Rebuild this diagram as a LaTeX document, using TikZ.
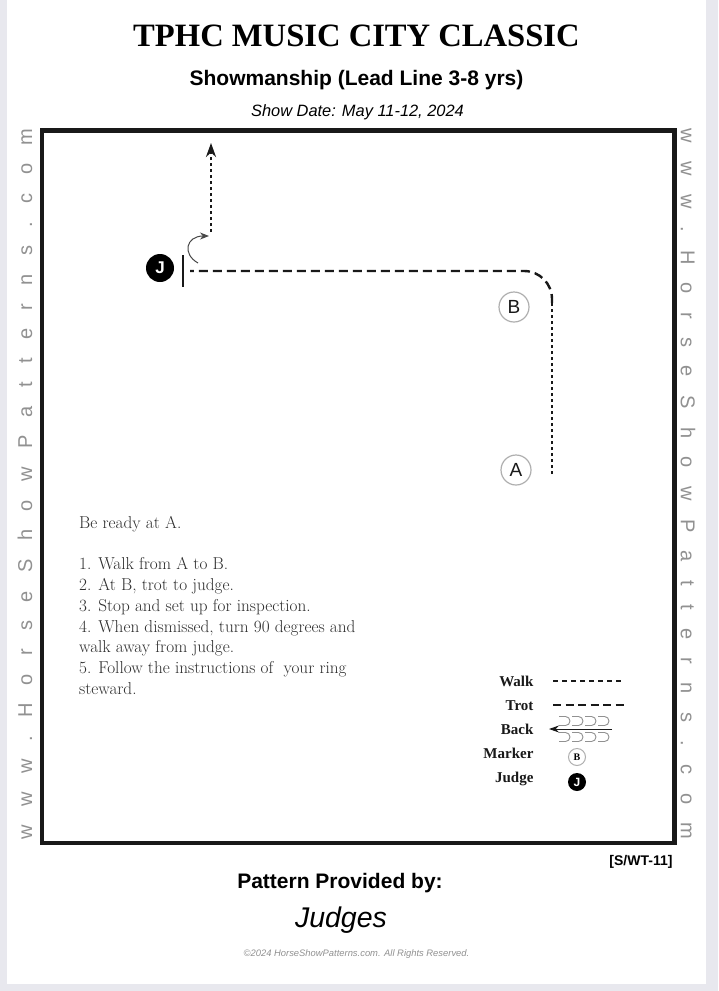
\documentclass[tikz,border=0pt]{standalone}
\usepackage{fontspec}
\newfontfamily\hspsans{Liberation Sans}
\newfontfamily\hspserif{Liberation Serif}
\usetikzlibrary{arrows.meta}
\definecolor{gray1}{RGB}{145, 145, 145}
\definecolor{gray2}{RGB}{175, 175, 175}
\definecolor{text1}{RGB}{45, 45, 45}
\definecolor{black1}{RGB}{25, 25, 25}
\definecolor{page1}{RGB}{232, 232, 238}

\begin{document}
\begin{tikzpicture}[
    x=1pt, y=-1pt,
    marker/.style={
      circle, draw=gray2, line width=1.2pt, minimum size=30pt, inner sep=0pt,
      font=\hspsans\fontsize{19}{19}\selectfont, text=black1
    },
    judge/.style={
      circle, fill=black, minimum size=28pt, inner sep=0pt,
      font=\hspsans\bfseries\fontsize{17}{17}\selectfont, text=white
    },
    walk/.style={line width=2.4pt, dash pattern=on 3pt off 3pt, black1},
    trot/.style={line width=2.4pt, dash pattern=on 9pt off 5pt, black1},
    watermark/.style={
      font=\hspsans\fontsize{20}{20}\selectfont\addfontfeature{LetterSpace=92},
      text=gray1, inner sep=0pt
    },
    legend/.style={anchor=base east, font=\hspserif\bfseries\fontsize{15}{15}\selectfont, text=black1},
  ]

  % Page
  \fill[page1] (0,0) rectangle (718,991);
  \fill[white] (7,0) rectangle (706,984);
  \useasboundingbox (0,0) rectangle (718,991);

  % Header
  \node[font=\hspserif\bfseries\fontsize{32.6}{32.6}\selectfont] (title) at (356.5,36) {TPHC MUSIC CITY CLASSIC};
  \node[anchor=base, font=\hspsans\bfseries\fontsize{21}{21}\selectfont] (class) at (356.5,85.5) {Showmanship (Lead Line 3-8 yrs)};
  \node[anchor=base, font=\hspsans\itshape\fontsize{16.4}{16.4}\selectfont] (date) at (357.5,116) {Show Date: May 11-12, 2024};

  % Arena
  \draw[black1, line width=4.5pt] (42,130.5) rectangle (674.5,843);
  \node[watermark, rotate=90] (wmleft) at (25,484) {www.HorseShowPatterns.com};
  \node[watermark, rotate=-90] (wmright) at (688,484) {www.HorseShowPatterns.com};

  % Markers and judge
  \node[marker] (B) at (514,307) {B};
  \node[marker] (A) at (516,470) {A};
  \node[judge] (J) at (160,268) {J};
  \draw[black1, line width=2pt] (183,255) -- (183,287);

  % Pattern
  \coordinate (start) at (552,474);
  \coordinate (corner) at (552,303);
  \coordinate (stop) at (190,271);
  \draw[walk] (start) -- (corner);
  \draw[trot, rounded corners=28pt] (corner) |- (stop);
  \coordinate (turn) at (198,263);
  \coordinate (turnend) at (209,236);
  \draw[black1!80, line width=1pt, -{Stealth[length=9pt, width=7pt]}] (turn) .. controls (182,254) and (186,236) .. (turnend);
  \coordinate (away) at (211,232);
  \coordinate (exit) at (211,143);
  \draw[walk, -{Stealth[length=14pt, width=10pt]}] (away) -- (exit);

  % Instructions
  \node[anchor=north west, align=left, inner sep=0pt, text=text1, font=\fontsize{17.2}{20.75}\selectfont] (steps) at (79,516) {Be ready at A.\\[20.75pt]
    1. Walk from A to B.\\
    2. At B, trot to judge.\\
    3. Stop and set up for inspection.\\
    4. When dismissed, turn 90 degrees and\\
    walk away from judge.\\
    5. Follow the instructions of\ \ your ring\\
    steward.};

  % Legend
  \node[legend] (lwalk) at (537,686) {Walk};
  \node[legend] (ltrot) at (537,710) {Trot};
  \node[legend] (lback) at (537,734) {Back};
  \node[legend] (lmarker) at (537,758) {Marker};
  \node[legend] (ljudge) at (537,782) {Judge};
  \draw[black1, line width=1.5pt, dash pattern=on 4.5pt off 4.5pt] (553,681) -- (625,681);
  \draw[black1, line width=1.5pt, dash pattern=on 8pt off 4.5pt] (553,705) -- (625,705);
  \foreach \i in {0,...,3} {
    \draw[gray1, line width=0.9pt] ({559+13*\i},716.5) -- ++(6.5,0) arc[start angle=-90, end angle=90, radius=4.5] -- ++(-6.5,0);
    \draw[gray1, line width=0.9pt] ({559+13*\i},732.5) -- ++(6.5,0) arc[start angle=-90, end angle=90, radius=4.5] -- ++(-6.5,0);
  }
  \draw[black1, line width=1pt, -{Stealth[length=10pt, width=7pt]}] (612,729) -- (549,729);
  \node[circle, draw=gray2, line width=1pt, minimum size=17pt, inner sep=0pt, font=\hspserif\bfseries\fontsize{10}{10}\selectfont] (mB) at (577,757) {B};
  \node[circle, fill=black, minimum size=18pt, inner sep=0pt, font=\hspsans\bfseries\fontsize{12}{12}\selectfont, text=white] (mJ) at (577,782) {J};

  % Footer
  \node[anchor=base east, font=\hspsans\bfseries\fontsize{14}{14}\selectfont] (code) at (676,865) {[S/WT-11]};
  \node[anchor=base, font=\hspsans\bfseries\fontsize{21}{21}\selectfont] (provided) at (340,888) {Pattern Provided by:};
  \node[anchor=base, font=\hspsans\itshape\fontsize{28.5}{28.5}\selectfont] (judges) at (341,927) {Judges};
  \node[anchor=base, font=\hspsans\itshape\fontsize{9.4}{9.4}\selectfont, text=gray1] (copy) at (356.5,956) {\textcopyright2024 HorseShowPatterns.com. All Rights Reserved.};

\end{tikzpicture}
\end{document}
